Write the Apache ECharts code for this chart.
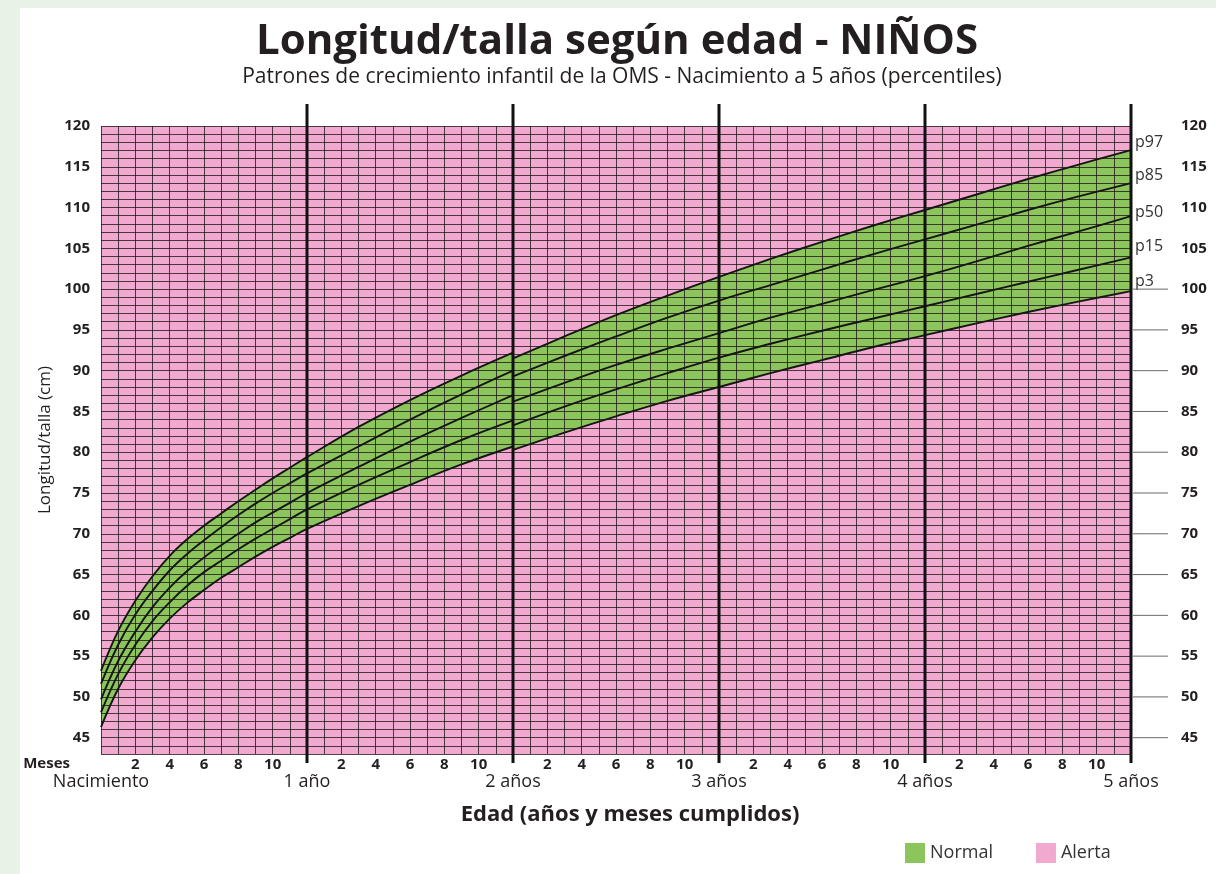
<!DOCTYPE html>
<html>
<head>
<meta charset="utf-8">
<script src="https://cdn.jsdelivr.net/npm/echarts@6/dist/echarts.min.js"></script>
<style>
  html, body { margin: 0; padding: 0; background: #fff; }
  #frame { position: absolute; left: 0; top: 0; width: 1216px; height: 874px; box-sizing: border-box;
           background: #fff; border-left: 20px solid #e9f3e5; border-top: 8px solid #e9f3e5; }
  #chart { position: absolute; left: 0; top: 0; width: 1216px; height: 874px; }
</style>
</head>
<body>
<div id="frame"></div>
<div id="chart"></div>
<script>
// Axis ranges
const ageRange = [0, 60];          // months
const heightRange = [43, 120];     // cm

// Tick labels
const monthTickLabels = [2, 4, 6, 8, 10];
const yearLabels = ['Nacimiento', '1 año', '2 años', '3 años', '4 años', '5 años'];
const yearMarks = [12, 24, 36, 48, 60];
const rightTicks = [45, 50, 55, 60, 65, 70, 75, 80, 85, 90, 95, 100];

// Length (lying down), birth to 2 years
const monthsLength = [0, 1, 2, 3, 4, 5, 6, 7, 8, 9, 10, 11, 12, 15, 18, 21, 24];
const p3Length  = [46.3, 51.0, 54.5, 57.3, 59.6, 61.5, 63.1, 64.6, 65.9, 67.2, 68.4, 69.5, 70.6, 73.4, 76.0, 78.5, 80.7];
const p15Length = [48.1, 52.8, 56.4, 59.3, 61.6, 63.6, 65.3, 66.7, 68.1, 69.4, 70.6, 71.8, 73.0, 76.0, 78.8, 81.5, 83.9];
const p50Length = [49.7, 54.4, 58.0, 61.0, 63.4, 65.4, 67.1, 68.6, 70.0, 71.4, 72.6, 73.8, 75.0, 78.2, 81.3, 84.2, 87.0];
const p85Length = [51.6, 56.4, 60.1, 63.0, 65.5, 67.5, 69.2, 70.8, 72.3, 73.7, 75.0, 76.2, 77.4, 80.7, 84.0, 87.1, 90.0];
const p97Length = [53.2, 58.1, 61.8, 64.8, 67.3, 69.3, 71.0, 72.5, 74.0, 75.4, 76.8, 78.1, 79.4, 83.1, 86.4, 89.4, 92.2];

// Height (standing), 2 to 5 years
const monthsHeight = [24, 27, 30, 33, 36, 39, 42, 45, 48, 51, 54, 57, 60];
const p3Height  = [80.3, 82.4, 84.4, 86.3, 88.0, 89.7, 91.3, 92.9, 94.35, 95.8, 97.2, 98.5, 99.75];
const p15Height = [83.3, 85.6, 87.7, 89.7, 91.6, 93.3, 94.9, 96.4, 97.9, 99.4, 100.9, 102.4, 103.9];
const p50Height = [86.2, 88.5, 90.7, 92.7, 94.6, 96.5, 98.2, 99.9, 101.6, 103.4, 105.3, 107.1, 108.95];
const p85Height = [89.3, 91.8, 94.2, 96.5, 98.6, 100.5, 102.4, 104.3, 106.1, 107.9, 109.7, 111.4, 113.0];
const p97Height = [91.5, 94.2, 96.8, 99.2, 101.5, 103.7, 105.8, 107.8, 109.7, 111.6, 113.5, 115.3, 117.05];

// Styling
const FONT = '"Open Sans", "Noto Sans", sans-serif';
const GREEN = '#8cc55c';
const PINK = '#f1a9cf';
const GRID_LINE = 'rgba(32, 24, 28, 0.8)';
const CURVE = '#161616';
const TEXT = '#231f20';
const SMOOTH = 0.4;
const labelOffsets = { p97: [0, -8], p85: [0, -8], p50: [0, -4], p15: [0, -11], p3: [0, -10] };

const pairs = (xs, ys) => xs.map((x, i) => [x, ys[i]]);

// Filled region under a curve, down to the bottom of the chart
function fillSeries(name, months, values, color) {
  return {
    name: name, type: 'line', z: 1, silent: true,
    data: pairs(months, values), showSymbol: false, smooth: SMOOTH,
    lineStyle: { width: 0 }, itemStyle: { color: color },
    areaStyle: { color: color, opacity: 1, origin: 'start' }
  };
}

function curveSeries(name, months, values, withLabel) {
  const s = {
    name: name, type: 'line', z: 4, silent: true,
    data: pairs(months, values), showSymbol: false, smooth: SMOOTH,
    lineStyle: { color: CURVE, width: 1.9 }, itemStyle: { color: CURVE }
  };
  if (withLabel) {
    s.endLabel = {
      show: true, formatter: name, distance: 4, offset: labelOffsets[name],
      color: '#333', fontSize: 16, fontFamily: FONT
    };
  }
  return s;
}

const series = [
  // Alert zone: the whole chart area
  {
    name: 'Alerta', type: 'custom', z: 0, silent: true,
    itemStyle: { color: PINK },
    data: [[ageRange[0], heightRange[1], ageRange[1], heightRange[0]]],
    encode: { x: [0, 2], y: [1, 3] },
    renderItem: (params, api) => {
      const a = api.coord([api.value(0), api.value(1)]);
      const b = api.coord([api.value(2), api.value(3)]);
      return { type: 'rect', shape: { x: a[0], y: a[1], width: b[0] - a[0], height: b[1] - a[1] },
               style: { fill: PINK } };
    }
  },
  // Normal band: green under p97, then alert pink again under p3
  fillSeries('Normal', monthsLength, p97Length, GREEN),
  fillSeries('Normal', monthsHeight, p97Height, GREEN),
  fillSeries('belowP3Length', monthsLength, p3Length, PINK),
  fillSeries('belowP3Height', monthsHeight, p3Height, PINK),
  curveSeries('p97', monthsLength, p97Length, false),
  curveSeries('p85', monthsLength, p85Length, false),
  curveSeries('p50', monthsLength, p50Length, false),
  curveSeries('p15', monthsLength, p15Length, false),
  curveSeries('p3', monthsLength, p3Length, false),
  curveSeries('p97', monthsHeight, p97Height, true),
  curveSeries('p85', monthsHeight, p85Height, true),
  curveSeries('p50', monthsHeight, p50Height, true),
  curveSeries('p15', monthsHeight, p15Height, true),
  curveSeries('p3', monthsHeight, p3Height, true),
  // Thick year dividers, running a little past the grid
  {
    name: 'yearLines', type: 'custom', z: 5, silent: true, clip: false,
    data: yearMarks.map(m => [m, heightRange[1]]),
    renderItem: (params, api) => {
      const m = api.value(0);
      const top = api.coord([m, heightRange[1]]);
      const bot = api.coord([m, heightRange[0]]);
      return { type: 'line', shape: { x1: top[0], y1: top[1] - 22, x2: bot[0], y2: bot[1] + 9 },
               style: { stroke: '#111', lineWidth: 3 } };
    }
  },
  // Short guide marks beside the right-hand scale
  {
    name: 'rightTicks', type: 'custom', z: 5, silent: true, clip: false,
    data: rightTicks.map(v => [ageRange[1], v]),
    renderItem: (params, api) => {
      const p = api.coord([api.value(0), api.value(1)]);
      return { type: 'line', shape: { x1: p[0] + 2, y1: p[1], x2: p[0] + 37, y2: p[1] },
               style: { stroke: '#6a6a6a', lineWidth: 1 } };
    }
  }
];

const heightLabel = v => (v % 5 === 0 ? String(v) : '');

const option = {
  animation: false,
  textStyle: { fontFamily: FONT },
  title: [
    { text: 'Longitud/talla según edad - NIÑOS', left: 612, top: 16, textAlign: 'center',
      textStyle: { fontSize: 42, fontWeight: 'bold', color: TEXT, fontFamily: FONT } },
    { text: 'Patrones de crecimiento infantil de la OMS - Nacimiento a 5 años (percentiles)', left: 617, top: 62,
      textAlign: 'center', textStyle: { fontSize: 21, fontWeight: 'normal', color: TEXT, fontFamily: FONT } },
    { text: 'Edad (años y meses cumplidos)', left: 625, top: 799, textAlign: 'center',
      textStyle: { fontSize: 22, fontWeight: 'bold', color: TEXT, fontFamily: FONT } }
  ],
  legend: {
    data: ['Normal', 'Alerta'], left: 905, top: 843, padding: 0, icon: 'rect',
    itemWidth: 20, itemHeight: 20, itemGap: 43, selectedMode: false,
    textStyle: { fontSize: 18, color: '#333', fontFamily: FONT }
  },
  grid: { left: 101, right: 85, top: 126, bottom: 120, containLabel: false },
  xAxis: [
    {
      type: 'value', min: ageRange[0], max: ageRange[1], interval: 1, position: 'bottom', z: 3,
      splitLine: { show: true, lineStyle: { color: GRID_LINE, width: 1 } },
      axisLine: { show: false }, axisTick: { show: false },
      axisLabel: {
        margin: 3, fontSize: 15, fontWeight: 'bold', color: TEXT, fontFamily: FONT,
        formatter: v => { const r = v % 12; return monthTickLabels.includes(r) ? String(r) : ''; }
      },
      name: 'Meses', nameLocation: 'start', nameGap: 31,
      nameTextStyle: { fontSize: 15, fontWeight: 'bold', color: TEXT, fontFamily: FONT,
                       verticalAlign: 'top', padding: [2, 0, 0, 0] }
    },
    {
      type: 'value', min: ageRange[0], max: ageRange[1], interval: 12, position: 'bottom',
      splitLine: { show: false }, axisLine: { show: false }, axisTick: { show: false },
      axisLabel: {
        margin: 19, fontSize: 18, color: TEXT, fontFamily: FONT, showMinLabel: true, showMaxLabel: true,
        formatter: v => yearLabels[v / 12]
      }
    }
  ],
  yAxis: [
    {
      type: 'value', min: heightRange[0], max: heightRange[1], interval: 1, position: 'left', z: 3,
      splitLine: { show: true, lineStyle: { color: GRID_LINE, width: 1 } },
      axisLine: { show: false }, axisTick: { show: false },
      axisLabel: { margin: 11, fontSize: 15, fontWeight: 'bold', color: TEXT, fontFamily: FONT, formatter: heightLabel },
      name: 'Longitud/talla (cm)', nameLocation: 'middle', nameGap: 43,
      nameTextStyle: { fontSize: 17, color: TEXT, fontFamily: FONT }
    },
    {
      type: 'value', min: heightRange[0], max: heightRange[1], interval: 1, position: 'right',
      splitLine: { show: false }, axisLine: { show: false }, axisTick: { show: false },
      axisLabel: { margin: 50, fontSize: 15, fontWeight: 'bold', color: TEXT, fontFamily: FONT, formatter: heightLabel }
    }
  ],
  series: series
};

const chart = echarts.init(document.getElementById('chart'), null, { renderer: 'canvas' });
chart.setOption(option);
</script>
</body>
</html>
